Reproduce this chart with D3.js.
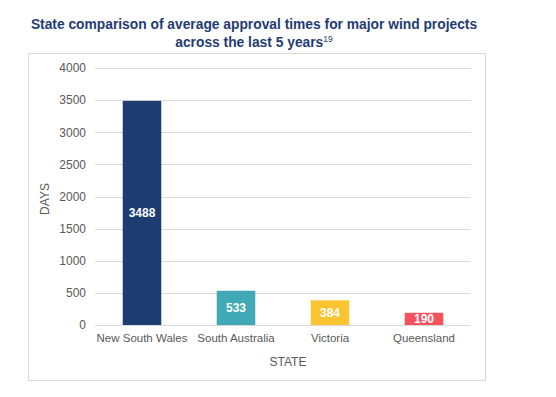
<!DOCTYPE html>
<html>
<head>
<meta charset="utf-8">
<script src="https://cdn.jsdelivr.net/npm/d3@7"></script>
<style>
  body { margin: 0; background: #fff; }
  svg { display: block; font-family: "Liberation Sans", Arial, sans-serif; }
</style>
</head>
<body>
<svg id="chart" width="556" height="397"></svg>
<script>
var states = ["New South Wales", "South Australia", "Victoria", "Queensland"];
var days = [3488, 533, 384, 190];
var barColors = ["#1d3c72", "#41a9b5", "#fbc532", "#f4525d"];
var yTicks = [0, 500, 1000, 1500, 2000, 2500, 3000, 3500, 4000];

var svg = d3.select("#chart");

// outer frame
svg.append("rect")
    .attr("x", 28.5).attr("y", 53.5)
    .attr("width", 457).attr("height", 327)
    .style("fill", "none")
    .style("stroke", "#d9d9d9")
    .style("stroke-width", "1px");

// title
var title = svg.append("text")
    .attr("text-anchor", "middle")
    .style("fill", "#1f3c73")
    .style("font-size", "13.8px")
    .style("font-weight", "bold");
title.append("tspan").attr("x", 254).attr("y", 29)
    .text("State comparison of average approval times for major wind projects");
var t2 = title.append("tspan").attr("x", 254).attr("y", 46.5);
t2.append("tspan").text("across the last 5 years");
t2.append("tspan").attr("dy", -5).style("font-size", "8.5px").style("font-weight", "normal").text("19");

var plotLeft = 95, plotRight = 471, plotTop = 68, plotBottom = 325;

var x = d3.scaleBand()
    .domain(states)
    .range([plotLeft, plotRight])
    .paddingInner(0.59)
    .paddingOuter(0.295);

var y = d3.scaleLinear()
    .domain([0, 4000])
    .range([plotBottom, plotTop]);

// gridlines
svg.append("g")
    .selectAll("line")
    .data(yTicks)
    .join("line")
    .attr("x1", plotLeft).attr("x2", plotRight)
    .attr("y1", function(d) { return Math.round(y(d)) + 0.5; })
    .attr("y2", function(d) { return Math.round(y(d)) + 0.5; })
    .style("stroke", "#d9d9d9")
    .style("stroke-width", "1px");

// y axis labels
var yAxis = svg.append("g")
    .attr("transform", "translate(" + (plotLeft - 9) + ",0)")
    .call(d3.axisLeft(y).tickValues(yTicks).tickSize(0).tickPadding(0).tickFormat(d3.format("d")));
yAxis.select(".domain").remove();
yAxis.selectAll("text")
    .style("font-family", "Liberation Sans, Arial, sans-serif")
    .style("font-size", "12px")
    .style("fill", "#595959");

// bars
svg.append("g")
    .selectAll("rect")
    .data(days)
    .join("rect")
    .attr("x", function(d, i) { return x(states[i]); })
    .attr("y", function(d) { return y(d); })
    .attr("width", x.bandwidth())
    .attr("height", function(d) { return plotBottom - y(d); })
    .style("fill", function(d, i) { return barColors[i]; });

// bar value labels
svg.append("g")
    .selectAll("text")
    .data(days)
    .join("text")
    .attr("x", function(d, i) { return x(states[i]) + x.bandwidth() / 2; })
    .attr("y", function(d) { return (y(d) + plotBottom) / 2; })
    .attr("dy", "0.36em")
    .attr("text-anchor", "middle")
    .style("fill", "#fff")
    .style("font-size", "12px")
    .style("font-weight", "bold")
    .text(function(d) { return d; });

// x axis labels
var xAxis = svg.append("g")
    .attr("transform", "translate(0," + plotBottom + ")")
    .call(d3.axisBottom(x).tickSize(0).tickPadding(9));
xAxis.select(".domain").remove();
xAxis.selectAll("text")
    .style("font-family", "Liberation Sans, Arial, sans-serif")
    .style("font-size", "11.5px")
    .style("fill", "#595959");

// axis titles
svg.append("text")
    .attr("x", 288).attr("y", 366)
    .attr("text-anchor", "middle")
    .style("fill", "#595959")
    .style("font-size", "12px")
    .text("STATE");

svg.append("text")
    .attr("transform", "translate(49,199) rotate(-90)")
    .attr("text-anchor", "middle")
    .style("fill", "#595959")
    .style("font-size", "12px")
    .text("DAYS");
</script>
</body>
</html>
